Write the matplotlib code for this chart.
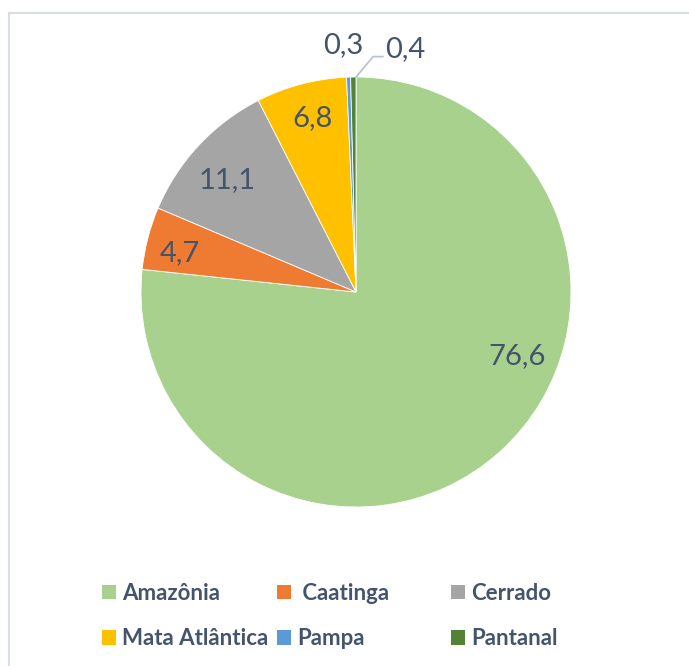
import matplotlib.pyplot as plt
from matplotlib.lines import Line2D
from matplotlib.patches import Patch

biomas = ["Amazônia", " Caatinga", "Cerrado", "Mata Atlântica", "Pampa", "Pantanal"]
valores = [76.6, 4.7, 11.1, 6.8, 0.3, 0.4]
rotulos = ["76,6", "4,7", "11,1", "6,8", "0,3", "0,4"]
cores = ["#A9D18E", "#EF7B33", "#A5A5A5", "#FFC000", "#5B9BD5", "#548235"]

# posicao dos rotulos (coordenadas do eixo, raio = 1)
pos_rotulos = [(0.75, -0.30), (-0.82, 0.18), (-0.60, 0.52),
               (-0.20, 0.81), (-0.06, 1.15), (0.23, 1.13)]

cor_texto = "#44546A"
plt.rcParams['font.family'] = ['Lato', 'DejaVu Sans']

fig = plt.figure(figsize=(6.89, 6.66), dpi=100)
ax = fig.add_axes([141 / 689, 1 - 507 / 666, 430 / 689, 430 / 666])

ax.pie(valores, colors=cores, startangle=90, counterclock=False,
       wedgeprops=dict(edgecolor="white", linewidth=0.6))
ax.set_xlim(-1, 1)
ax.set_ylim(-1, 1)
ax.set_aspect("equal")
ax.axis("off")

for txt, (x, y) in zip(rotulos, pos_rotulos):
    ax.text(x, y, txt, ha="center", va="center", fontsize=21,
            color=cor_texto, clip_on=False)

# linha guia do 0,4
ax.plot([0.0, 0.08, 0.125], [1.0, 1.095, 1.095], color="#B4C0D0",
        linewidth=1.2, clip_on=False)

# legenda em tres colunas
colunas_x = [102 / 689, 277 / 689, 451 / 689]
for c in range(3):
    idx = [c, c + 3]
    handles = [Patch(facecolor=cores[i], edgecolor="none") for i in idx]
    fig.legend(handles, [biomas[i] for i in idx], loc="upper left",
               bbox_to_anchor=(colunas_x[c], 1 - 583 / 666), frameon=False,
               borderpad=0, borderaxespad=0, handlelength=0.63,
               handleheight=0.63, handletextpad=0.28, labelspacing=1.1,
               prop=dict(size=16, weight="bold"), labelcolor=cor_texto)

# moldura
fig.add_artist(Line2D([9 / 689, 9 / 689], [0, 1 - 13 / 666],
                      transform=fig.transFigure, color="#D9DEE4", linewidth=1.5))
fig.add_artist(Line2D([9 / 689, 1], [1 - 13 / 666, 1 - 13 / 666],
                      transform=fig.transFigure, color="#D9DEE4", linewidth=1.5))

fig.savefig("out.png", dpi=100, facecolor="white")
